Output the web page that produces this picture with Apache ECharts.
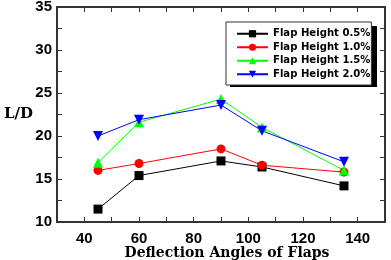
<!DOCTYPE html>
<html>
<head>
<meta charset="utf-8">
<title>L/D vs Deflection Angles</title>
<script src="https://cdn.jsdelivr.net/npm/echarts@6/dist/echarts.min.js"></script>
</head>
<body style="margin:0;background:#fff">
<div id="container" style="width:391px;height:260px;"></div>
<script type="text/javascript">
// 偏转角
var angles = [45, 60, 90, 105, 135];
var names = ['Flap Height 0.5%', 'Flap Height 1.0%', 'Flap Height 1.5%', 'Flap Height 2.0%'];
var h05 = [11.5, 15.4, 17.1, 16.4, 14.2];
var h10 = [16.0, 16.8, 18.5, 16.6, 15.8];
var h15 = [16.9, 21.6, 24.3, 21.0, 16.0];
var h20 = [20.0, 21.9, 23.6, 20.6, 17.0];

function pairs(ys) {
    return angles.map(function (a, i) { return [a, ys[i]]; });
}

var tickFont = { fontFamily: 'Liberation Sans', fontWeight: 'bold', fontSize: 15, color: '#000' };

function mkSeries(name, ys, color, symbol, size, rotate) {
    return {
        name: name, type: 'line', data: pairs(ys),
        symbol: symbol, symbolSize: size, symbolRotate: rotate || 0,
        lineStyle: { color: color, width: 1 },
        itemStyle: { color: color },
        animation: false
    };
}

var option = {
    animation: false,
    grid: { left: 57, right: 6, top: 7, bottom: 38, outerBoundsMode: 'none', containLabel: false },
    // 图例阴影
    graphic: [{
        type: 'rect', z: 1, silent: true,
        shape: { x: 230, y: 26, width: 147, height: 61 },
        style: { fill: '#000' }
    }],
    legend: {
        orient: 'vertical', left: 226, top: 22, z: 10,
        itemWidth: 31, itemHeight: 9, itemGap: 0,
        padding: [5, 1, 4, 10],
        backgroundColor: '#fff',
        borderColor: '#333', borderWidth: 1,
        textStyle: { fontFamily: 'DejaVu Sans', fontWeight: 'bold', fontSize: 10.1, color: '#000', lineHeight: 13.5 },
        data: names
    },
    xAxis: [{
        type: 'value', min: 30, max: 150, interval: 10,
        name: 'Deflection Angles of Flaps', nameLocation: 'middle', nameGap: 24, nameMoveOverlap: false,
        nameTextStyle: { fontFamily: 'DejaVu Serif', fontWeight: 'bold', fontSize: 14, color: '#000', padding: [0, 0, 0, 12] },
        axisLine: { show: true, lineStyle: { color: '#333', width: 2 } },
        axisTick: { inside: true, length: 5, lineStyle: { color: '#333', width: 1 } },
        axisLabel: Object.assign({ margin: 9, formatter: function (v) { return (v % 20 === 0 && v > 30 && v < 150) ? v : ''; } }, tickFont),
        splitLine: { show: false }
    }, {
        type: 'value', position: 'top', min: 30, max: 150, interval: 10,
        axisLine: { show: true, lineStyle: { color: '#333', width: 2 } },
        axisTick: { inside: true, length: 5, lineStyle: { color: '#333' } },
        axisLabel: { show: false }, splitLine: { show: false }
    }],
    yAxis: [{
        type: 'value', min: 10, max: 35, interval: 2.5,
        name: 'L/D', nameLocation: 'middle', nameGap: 24, nameRotate: 0, nameMoveOverlap: false,
        nameTextStyle: { fontFamily: 'DejaVu Serif', fontWeight: 'bold', fontSize: 15, color: '#000', padding: [6, 0, 0, 0] },
        axisLine: { show: true, lineStyle: { color: '#333', width: 2 } },
        axisTick: { inside: true, length: 5, lineStyle: { color: '#333' } },
        axisLabel: Object.assign({ margin: 5, formatter: function (v) { return v % 5 === 0 ? v : ''; } }, tickFont),
        splitLine: { show: false }
    }, {
        type: 'value', position: 'right', min: 10, max: 35, interval: 2.5,
        axisLine: { show: true, lineStyle: { color: '#333', width: 2 } },
        axisTick: { inside: true, length: 5, lineStyle: { color: '#333' } },
        axisLabel: { show: false }, splitLine: { show: false }
    }],
    series: [
        mkSeries(names[0], h05, '#000000', 'rect', 9),
        mkSeries(names[1], h10, '#ff0000', 'circle', 9),
        mkSeries(names[2], h15, '#00ff00', 'triangle', 10),
        mkSeries(names[3], h20, '#0000ff', 'triangle', 10, 180)
    ]
};

var myChart = echarts.init(document.getElementById('container'));
myChart.setOption(option);
</script>
</body>
</html>
